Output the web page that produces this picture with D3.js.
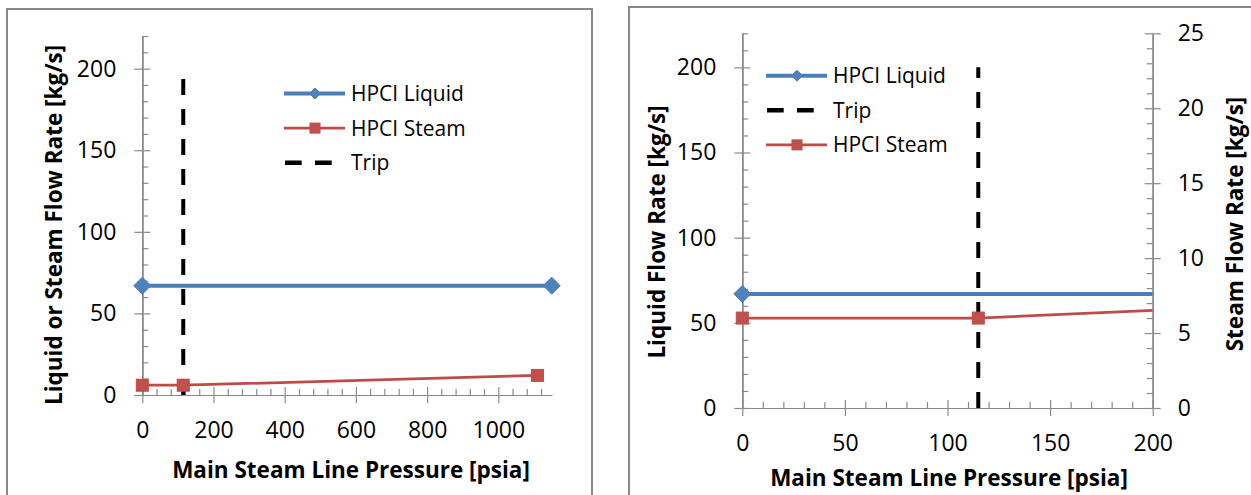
<!DOCTYPE html>
<html>
<head>
<meta charset="utf-8">
<script src="https://cdn.jsdelivr.net/npm/d3@7"></script>
<style>
  html, body { margin: 0; padding: 0; background: #fff; }
  svg { display: block; }
  text { font-family: "Open Sans", "Noto Sans", sans-serif; fill: #000; }
</style>
</head>
<body>
<svg id="chart" width="1251" height="495"></svg>
<script>
// ---------------- data ----------------
const liquidPressure = [0, 1150];
const liquidFlow = [67, 67];
const steamPressure = [0, 115, 1110];
const steamFlow = [6, 6, 12];
const tripPressure = [115, 115];
const tripFlow = [0, 200];

const leftXTicks = [0, 200, 400, 600, 800, 1000];
const leftYTicks = [0, 50, 100, 150, 200];
const rightXTicks = [0, 50, 100, 150, 200];
const rightYTicks = [0, 50, 100, 150, 200];
const rightY2Ticks = [0, 5, 10, 15, 20, 25];

const seriesNames = { liquid: "HPCI Liquid", steam: "HPCI Steam", trip: "Trip" };
const xTitle = "Main Steam Line Pressure [psia]";
const leftYTitle = "Liquid or Steam Flow Rate [kg/s]";
const rightYTitle = "Liquid Flow Rate [kg/s]";
const rightY2Title = "Steam Flow Rate [kg/s]";

// ---------------- styles ----------------
const BLUE_LINE = "#4A7EBB", BLUE_MARK = "#4F81BD";
const RED_LINE = "#BE4B48", RED_MARK = "#C0504D";
const AXIS = "#8a8a8a";
const TICK_FONT = 23, LEG_FONT = 21, TITLE_FONT = 22.5;

const svg = d3.select("#chart");
const zip = (a, b) => a.map((v, i) => [v, b[i]]);

// panel borders
svg.append("rect").attr("x", 7).attr("y", 9).attr("width", 585).attr("height", 520)
  .attr("fill", "#fff").attr("stroke", "#888").attr("stroke-width", 2);
svg.append("rect").attr("x", 629).attr("y", 7).attr("width", 700).attr("height", 520)
  .attr("fill", "#fff").attr("stroke", "#888").attr("stroke-width", 2);

function minorsOf(domain, step, majors) {
  const out = [];
  for (let v = domain[0]; v <= domain[1] + 1e-9; v += step) {
    const r = Math.round(v * 1000) / 1000;
    if (!majors.includes(r)) out.push(r);
  }
  return out;
}

function styleAxis(g) {
  g.selectAll("path.domain").attr("stroke", AXIS).attr("stroke-width", 1.2);
  g.selectAll(".tick line").attr("stroke", AXIS).attr("stroke-width", 1.2);
  g.selectAll(".tick text").style("font-size", TICK_FONT + "px")
    .style("font-family", "'Open Sans', sans-serif").attr("fill", "#000");
}

function xAxis(x, yPos, majors, minorStep) {
  const minors = minorsOf(x.domain(), minorStep, majors);
  const gm = svg.append("g").attr("transform", `translate(0,${yPos})`)
    .call(d3.axisBottom(x).tickValues(minors).tickSize(-6).tickSizeOuter(0).tickFormat(""));
  styleAxis(gm);
  const gi = svg.append("g").attr("transform", `translate(0,${yPos})`)
    .call(d3.axisBottom(x).tickValues(majors).tickSize(-8).tickSizeOuter(0).tickFormat(""));
  styleAxis(gi);
  const g = svg.append("g").attr("transform", `translate(0,${yPos})`)
    .call(d3.axisBottom(x).tickValues(majors).tickSize(8).tickPadding(19).tickSizeOuter(0).tickFormat(d3.format("d")));
  styleAxis(g);
}

function yAxis(y, xPos, majors, minorStep, right) {
  const A = right ? d3.axisRight : d3.axisLeft;
  const minors = minorsOf(y.domain(), minorStep, majors);
  const gm = svg.append("g").attr("transform", `translate(${xPos},0)`)
    .call(A(y).tickValues(minors).tickSize(-6).tickSizeOuter(0).tickFormat(""));
  styleAxis(gm);
  const gi = svg.append("g").attr("transform", `translate(${xPos},0)`)
    .call(A(y).tickValues(majors).tickSize(-8).tickSizeOuter(0).tickFormat(""));
  styleAxis(gi);
  const g = svg.append("g").attr("transform", `translate(${xPos},0)`)
    .call(A(y).tickValues(majors).tickSize(8).tickPadding(right ? 17 : 18).tickSizeOuter(0).tickFormat(d3.format("d")));
  styleAxis(g);
}

const diamond = r => `M0,${-r}L${r},0L0,${r}L${-r},0Z`;

function drawSeries(layer, x, y, xs, ys, opts) {
  const pts = zip(xs, ys);
  layer.append("path").datum(pts)
    .attr("d", d3.line().x(d => x(d[0])).y(d => y(d[1])))
    .attr("fill", "none").attr("stroke", opts.stroke).attr("stroke-width", opts.width)
    .attr("stroke-dasharray", opts.dash || null);
  return pts;
}

function drawMarkers(layer, x, y, pts, kind, withinMax) {
  const vis = pts.filter(d => d[0] <= withinMax);
  if (kind === "diamond") {
    layer.selectAll(null).data(vis).enter().append("path")
      .attr("d", diamond(8.5))
      .attr("transform", d => `translate(${x(d[0])},${y(d[1])})`)
      .attr("fill", BLUE_MARK).attr("stroke", BLUE_LINE).attr("stroke-width", 1);
  } else {
    layer.selectAll(null).data(vis).enter().append("rect")
      .attr("x", d => x(d[0]) - 6).attr("y", d => y(d[1]) - 6)
      .attr("width", 12).attr("height", 12)
      .attr("fill", RED_MARK).attr("stroke", RED_LINE).attr("stroke-width", 1);
  }
}

function legend(x0, y0, order) {
  const g = svg.append("g");
  order.forEach((key, i) => {
    const cy = y0 + i * 34.6;
    if (key === "liquid") {
      g.append("line").attr("x1", x0).attr("x2", x0 + 61).attr("y1", cy).attr("y2", cy)
        .attr("stroke", BLUE_LINE).attr("stroke-width", 4);
      g.append("path").attr("d", diamond(5.5)).attr("transform", `translate(${x0 + 31},${cy})`)
        .attr("fill", BLUE_MARK).attr("stroke", BLUE_LINE);
    } else if (key === "steam") {
      g.append("line").attr("x1", x0).attr("x2", x0 + 61).attr("y1", cy).attr("y2", cy)
        .attr("stroke", RED_LINE).attr("stroke-width", 2.75);
      g.append("rect").attr("x", x0 + 26).attr("y", cy - 5).attr("width", 10).attr("height", 10)
        .attr("fill", RED_MARK).attr("stroke", RED_LINE);
    } else {
      g.append("line").attr("x1", x0 + 1).attr("x2", x0 + 48).attr("y1", cy).attr("y2", cy)
        .attr("stroke", "#000").attr("stroke-width", 4.5).attr("stroke-dasharray", "16.7 13.3");
    }
    g.append("text").attr("x", x0 + 67).attr("y", cy).attr("dy", "0.36em")
      .style("font-size", LEG_FONT + "px").text(seriesNames[key]);
  });
}

function title(txt, cx, cy, rotate) {
  svg.append("text")
    .attr("transform", `translate(${cx},${cy})` + (rotate ? " rotate(-90)" : ""))
    .attr("text-anchor", "middle").attr("dy", "0.35em")
    .style("font-size", TITLE_FONT + "px").style("font-weight", "bold")
    .text(txt);
}

// ---------------- left chart ----------------
{
  const x = d3.scaleLinear().domain([0, 1150]).range([142.3, 551.7]);
  const y = d3.scaleLinear().domain([0, 220]).range([395, 36]);
  yAxis(y, 142.3, leftYTicks, 10, false);
  xAxis(x, 395, leftXTicks, 40);
  const layer = svg.append("g");
  const lp = drawSeries(layer, x, y, liquidPressure, liquidFlow, { stroke: BLUE_LINE, width: 4 });
  const sp = drawSeries(layer, x, y, steamPressure, steamFlow, { stroke: RED_LINE, width: 2.75 });
  drawSeries(layer, x, y, tripPressure, tripFlow, { stroke: "#000", width: 4, dash: "16 14" });
  drawMarkers(layer, x, y, lp, "diamond", 1150);
  drawMarkers(layer, x, y, sp, "square", 1150);
  legend(284, 93.5, ["liquid", "steam", "trip"]);
  title(xTitle, 351, 470, false);
  title(leftYTitle, 54, 225, true);
}

// ---------------- right chart ----------------
{
  const x = d3.scaleLinear().domain([0, 200]).range([742.3, 1152.7]);
  const y = d3.scaleLinear().domain([0, 220]).range([408, 33.3]);
  const y2 = d3.scaleLinear().domain([0, 25]).range([408, 33.3]);
  yAxis(y, 742.3, rightYTicks, 10, false);
  yAxis(y2, 1152.7, rightY2Ticks, 1, true);
  xAxis(x, 408, rightXTicks, 10);
  svg.append("clipPath").attr("id", "clipR").append("rect")
    .attr("x", 742.3).attr("y", 20).attr("width", 1152.7 - 742.3).attr("height", 400);
  const lines = svg.append("g").attr("clip-path", "url(#clipR)");
  const marks = svg.append("g");
  const lp = drawSeries(lines, x, y, liquidPressure, liquidFlow, { stroke: BLUE_LINE, width: 4 });
  drawSeries(lines, x, y, tripPressure, tripFlow, { stroke: "#000", width: 4, dash: "16 14" });
  const sp = drawSeries(lines, x, y2, steamPressure, steamFlow, { stroke: RED_LINE, width: 2.75 });
  drawMarkers(marks, x, y, lp, "diamond", 200);
  drawMarkers(marks, x, y2, sp, "square", 200);
  legend(766, 75.7, ["liquid", "trip", "steam"]);
  title(xTitle, 949, 478, false);
  title(rightYTitle, 657, 232, true);
  title(rightY2Title, 1235, 224, true);
}
</script>
</body>
</html>
